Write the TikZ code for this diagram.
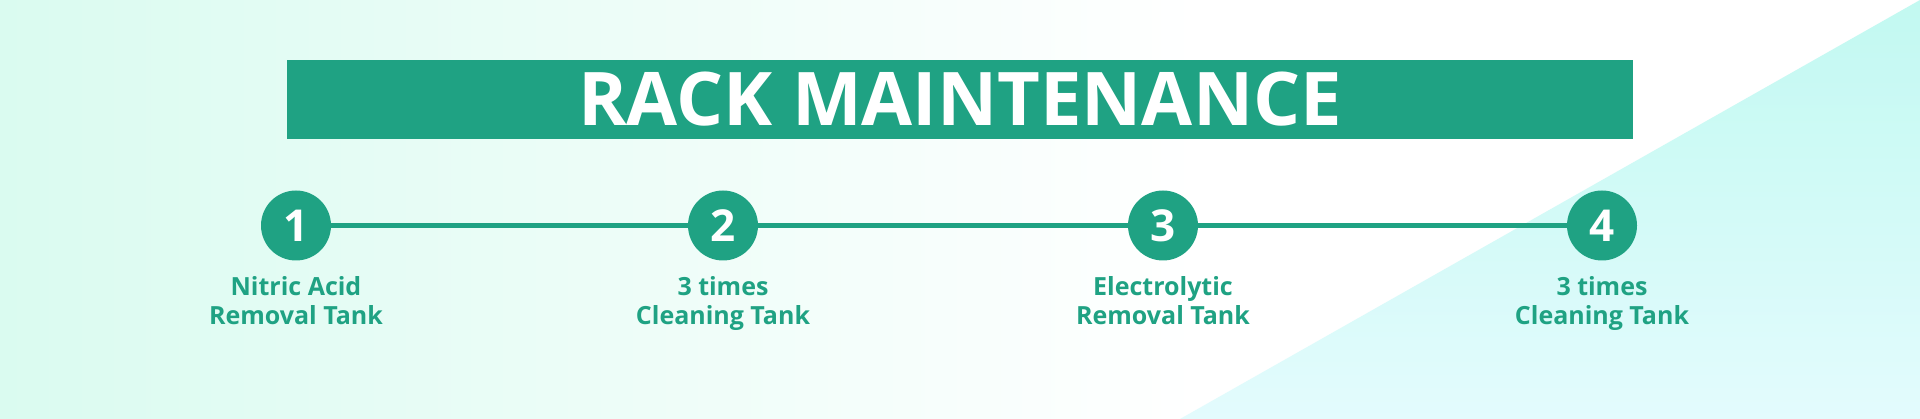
\documentclass[tikz,border=0pt]{standalone}
\usepackage{fontspec}
\setmainfont{Open Sans}
\definecolor{rackgreen}{HTML}{1FA283}
\definecolor{mintbg}{HTML}{DAFBF0}
\definecolor{cyantop}{HTML}{C2F9F1}
\definecolor{cyanbot}{HTML}{E3FBFD}

\begin{document}
\begin{tikzpicture}[x=1pt, y=1pt,
    stepdot/.style={circle, fill=rackgreen, minimum size=70pt, inner sep=0pt,
        text=white, font=\fontsize{44}{44}\selectfont\bfseries},
    steplabel/.style={anchor=north, align=center, inner sep=0pt, text=rackgreen,
        font=\fontsize{25}{29}\selectfont\bfseries}]
    \useasboundingbox (0,0) rectangle (1920,419);

    % background: mint fading to white, cyan wedge on the right
    \begin{scope}
        \shade[left color=mintbg, right color=white] (0,0) rectangle (1200,419);
        \fill[white] (1200,0) rectangle (1920,419);
        \shade[top color=cyantop, bottom color=cyanbot] (1920,419) -- (1180,0) -- (1920,0) -- cycle;
    \end{scope}

    % title bar
    \node [fill=rackgreen, minimum width=1346pt, minimum height=79pt, inner sep=0pt,
        text=white, font=\fontsize{74}{74}\selectfont\bfseries] (title) at (960,319.5) {RACK MAINTENANCE};

    % steps
    \foreach \i/\x/\one/\two in {1/296/Nitric Acid/Removal Tank, 2/723/3 times/Cleaning Tank,
        3/1163/Electrolytic/Removal Tank, 4/1602/3 times/Cleaning Tank}{
        \node [stepdot] (s\i) at (\x,193.5) {\i};
        \node [steplabel] (t\i) at (\x,143) {\one\\\two};
    }

    \draw [rackgreen, line width=4.5pt] (s1) -- (s2) -- (s3) -- (s4);

\end{tikzpicture}
\end{document}
